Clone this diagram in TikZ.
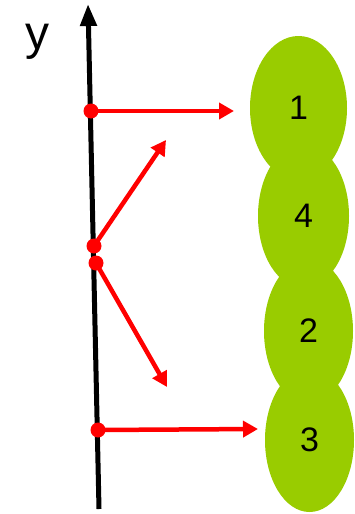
\documentclass[tikz,border=0pt]{standalone}
\usepackage{fontspec}
\setmainfont{Liberation Sans}
\usetikzlibrary{shapes.geometric,arrows.meta}
\definecolor{leaf}{RGB}{153,204,0}
\tikzset{
  blob/.style={ellipse, fill=leaf, minimum width=#1, minimum height=144pt, inner sep=0pt, font=\fontsize{34}{34}\selectfont},
  blob/.default=90pt,
  dot/.style={circle, fill=red, minimum size=15pt, inner sep=0pt},
  ray/.style={red, line width=4.5pt, -{Triangle[length=15pt,width=16pt]}},
  axis/.style={black, line width=5pt, -{Triangle[length=22pt,width=16pt]}}
}
\begin{document}
\begin{tikzpicture}[x=1pt,y=-1pt]
\useasboundingbox (0,0) rectangle (354,514);
% cells
\node[blob=97pt] (c1) at (298.5,108) {1\hspace{11pt}};
\node[blob=91pt] (c4) at (303.5,216) {4\hspace{3pt}};
\node[blob=89pt] (c2) at (308.5,331) {2\hspace{3pt}};
\node[blob=89pt] (c3) at (309.5,440) {3};
% axis
\coordinate (ybot) at (99,509);
\coordinate (ytop) at (88,4);
\draw[axis] (ybot) -- (ytop);
\node[font=\fontsize{48}{48}\selectfont] (ylab) at (37,42) {y};
% points on the axis
\node[dot] (p1) at (91,111) {};
\node[dot] (p2) at (94,246) {};
\node[dot] (p3) at (96,263) {};
\node[dot] (p4) at (98,430) {};
% arrow ends
\coordinate (t1) at (234,111);
\coordinate (t2) at (166,140);
\coordinate (t3) at (167,387);
\coordinate (t4) at (258,429);
\draw[ray] (p1.center) -- (t1);
\draw[ray] (p2.center) -- (t2);
\draw[ray] (p3.center) -- (t3);
\draw[ray] (p4.center) -- (t4);
\end{tikzpicture}
\end{document}
